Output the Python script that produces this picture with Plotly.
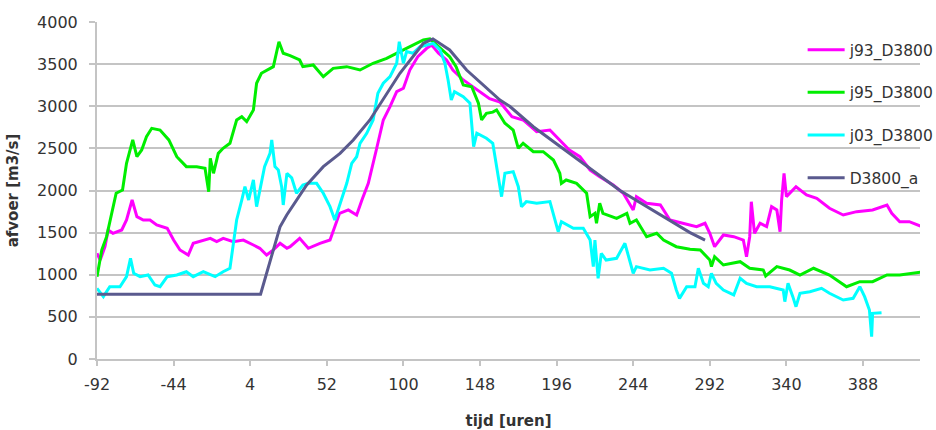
import plotly.graph_objects as go

# ---- data (hours, discharge m3/s) ----
j93_x = [-92, -90, -87, -85, -82, -76.5, -73.5, -70, -67, -63, -58.8, -54.6, -48, -44, -40, -34.8, -31.7,
         -27.5, -21, -17, -12.9, -6.6, -0.3, 6, 10, 14.3, 18.5, 22.7, 27, 29, 35, 40.4, 47.7, 54, 57, 60,
         65.5, 70.7, 74, 78, 83, 87.4, 91.6, 95.8, 100, 104, 109, 114.6, 117.7, 122, 127, 131, 137.5, 146,
         154, 160.5, 168, 175, 183.5, 191.8, 198, 204, 210.6, 217, 223, 231.5, 237.8, 244, 246, 252.4, 261,
         267, 275, 283.7, 289, 292, 295, 300.5, 307, 313, 315, 317, 318, 320, 323.5, 327.6, 330.7, 334, 336,
         337, 338.5, 340, 346, 352.6, 359, 367, 375.6, 384, 394, 403, 406, 411, 417, 424]
j93_y = [1254, 1175, 1333, 1531, 1492, 1531, 1650, 1887, 1689, 1650, 1650, 1591, 1551, 1412, 1294, 1234, 1373,
         1393, 1432, 1393, 1432, 1393, 1412, 1353, 1314, 1234, 1294, 1373, 1314, 1333, 1432, 1314, 1373, 1412,
         1571, 1729, 1769, 1709, 1887, 2085, 2481, 2837, 2995, 3173, 3213, 3430, 3589, 3688, 3727, 3629, 3549,
         3430, 3312, 3193, 3090, 3050, 2876, 2837, 2698, 2718, 2600, 2481, 2401, 2243, 2164, 2065, 1967, 1769,
         1927, 1848, 1828, 1650, 1611, 1571, 1611, 1492, 1333, 1472, 1452, 1412, 1214, 1452, 1867, 1492, 1611,
         1571, 1808, 1769, 1511, 1887, 2204, 1927, 2045, 1947, 1907, 1789, 1709, 1749, 1769, 1828, 1729, 1630,
         1630, 1578]

j95_x = [-92, -89, -86, -82, -80, -76, -73.5, -69.6, -67, -64, -61, -57.7, -52.5, -47, -42, -36, -29.5, -24.3,
         -22, -21, -19, -16, -13, -8.7, -4.5, -1.3, 1.8, 6, 8, 11, 18.5, 22, 24.7, 29, 35, 37, 43.5, 49.8, 56,
         64.5, 72.8, 81, 89.5, 97.8, 106, 112.5, 116.6, 123, 129, 133, 137.5, 142.8, 147, 149, 152, 156, 158.4,
         163.6, 168.8, 172, 175, 181.4, 187.6, 194, 198, 199, 202, 208.5, 214.8, 217, 220, 221, 223, 225, 233.6,
         240, 242, 246, 252.4, 258.7, 263, 271, 279.6, 286, 292, 293, 295, 300.5, 311, 317, 325.5, 327, 334,
         342, 348.5, 357, 367, 377.7, 386, 394, 403, 411, 424]
j95_y = [977, 1294, 1452, 1808, 1967, 2006, 2323, 2600, 2401, 2481, 2639, 2738, 2718, 2600, 2401, 2283, 2283,
         2263, 1986, 2382, 2204, 2441, 2501, 2560, 2837, 2876, 2817, 2956, 3273, 3391, 3470, 3766, 3629, 3600,
         3549, 3470, 3490, 3351, 3450, 3470, 3430, 3510, 3569, 3648, 3727, 3787, 3800, 3688, 3589, 3470, 3252,
         3232, 3035, 2837, 2916, 2930, 2956, 2798, 2718, 2501, 2560, 2461, 2461, 2362, 2204, 2085, 2125, 2085,
         1967, 1689, 1729, 1611, 1848, 1729, 1670, 1729, 1611, 1650, 1452, 1492, 1412, 1333, 1304, 1294, 1175,
         1096, 1214, 1116, 1155, 1077, 1056, 986, 1096, 1056, 997, 1077, 997, 858, 918, 918, 997, 997, 1030]

j03_x = [-92, -88, -84, -77.6, -73.5, -71, -69, -65, -60, -55.7, -52.5, -48, -42, -36, -31.7, -25.4, -18, -13,
         -8.7, -7, -4.5, -1.3, 0.7, 3, 6, 8, 10, 13, 16.4, 17.5, 19.5, 21.6, 23.7, 24.7, 27, 30, 33, 37, 40.4,
         45.6, 49.8, 54, 57, 60, 64.5, 67.6, 70.7, 72.8, 77, 81, 84, 87.4, 91.6, 95.8, 97.4, 100, 102, 106,
         110.4, 114.6, 118.7, 123, 126, 128, 130, 132, 137.5, 141.7, 144, 146, 152, 156, 157, 159.4, 161.5,
         163.6, 168.8, 172, 174, 177, 183.5, 191.8, 195, 197, 199, 206.5, 212.7, 217, 219, 220, 222, 224, 227,
         233.6, 238.8, 242, 244, 246, 254.5, 263, 268, 271, 273, 277.5, 282.7, 284.8, 288, 291, 293, 296,
         300.5, 307, 311, 315, 321.3, 329.6, 338, 339, 341, 344, 346, 348.5, 354.7, 362, 367, 375.6, 381.8,
         386, 389, 392, 393.4, 394, 399.6]
j03_y = [839, 740, 858, 858, 977, 1195, 1017, 977, 997, 878, 858, 977, 997, 1036, 977, 1036, 977, 1036, 1076,
         1333, 1650, 1887, 2045, 1887, 2125, 1808, 2006, 2283, 2441, 2600, 2283, 2243, 2045, 1828, 2204, 2150,
         1967, 2065, 2085, 2085, 1967, 1808, 1650, 1828, 2085, 2323, 2401, 2560, 2679, 2837, 3154, 3273, 3351,
         3510, 3766, 3510, 3648, 3629, 3707, 3727, 3747, 3668, 3510, 3312, 3074, 3173, 3113, 3035, 2520, 2679,
         2620, 2560, 2441, 2204, 1927, 2204, 2224, 2045, 1808, 1868, 1848, 1868, 1650, 1511, 1630, 1551, 1551,
         1412, 1096, 1412, 958, 1254, 1175, 1195, 1373, 1136, 1017, 1096, 1056, 1077, 1017, 819, 720, 858, 858,
         1076, 898, 858, 1017, 898, 819, 760, 958, 898, 858, 858, 819, 681, 898, 740, 621, 780, 799, 839, 780,
         700, 720, 858, 740, 582, 265, 542, 550]

d38_x = [-92, 10.5, 22.7, 26.9, 39.4, 49.8, 60.3, 68.6, 79, 97.8, 112.5, 118.5, 129, 139.6, 160.5, 166.6,
         181.4, 200, 235.7, 279.6, 289]
d38_y = [770, 770, 1570, 1709, 2065, 2283, 2441, 2600, 2837, 3391, 3747, 3800, 3668, 3430, 3074, 3000,
         2757, 2500, 2000, 1500, 1412]

x_ticks = [-92, -44, 4, 52, 100, 148, 196, 244, 292, 340, 388]
y_ticks = [0, 500, 1000, 1500, 2000, 2500, 3000, 3500, 4000]

series = [
    ("j93_D3800", j93_x, j93_y, "#FF00FF"),
    ("j95_D3800", j95_x, j95_y, "#00EE00"),
    ("j03_D3800", j03_x, j03_y, "#00FFFF"),
    ("D3800_a", d38_x, d38_y, "#5A5A8E"),
]

fig = go.Figure()
for name, xs, ys, col in series:
    fig.add_trace(go.Scatter(x=xs, y=ys, mode="lines", name=name, legendgroup=name,
                             line=dict(color=col, width=3)))

grid = "#C4C4C4"
font_fam = "DejaVu Sans, Arial, sans-serif"
fig.update_layout(
    width=936, height=430,
    margin=dict(l=97, r=16, t=22, b=71, autoexpand=False),
    paper_bgcolor="white", plot_bgcolor="white",
    font=dict(family=font_fam, size=16, color="#333333"),
    showlegend=True,
    legend=dict(x=0.8574, y=0.967, xanchor="left", yanchor="top", bgcolor="rgba(0,0,0,0)",
                itemwidth=37, tracegroupgap=19.5, font=dict(size=15.5, color="#333333")),
    xaxis=dict(range=[-92, 423.7], tickmode="array", tickvals=x_ticks, ticktext=[str(v) for v in x_ticks],
               showgrid=False, zeroline=False, showline=True, linecolor=grid, linewidth=2,
               ticks="outside", ticklen=5, tickwidth=2, tickcolor=grid, automargin=False,
               ticklabelstandoff=5,
               title=dict(text="<b>tijd [uren]</b>", font=dict(size=15, color="#333333"), standoff=23)),
    yaxis=dict(range=[0, 4000], tickmode="array", tickvals=y_ticks, ticktext=[str(v) for v in y_ticks],
               showgrid=True, gridcolor=grid, gridwidth=2, zeroline=False, showline=True, linecolor=grid,
               linewidth=2, ticks="outside", ticklen=6, tickwidth=2, tickcolor=grid, ticklabelstandoff=8,
               automargin=False,
               title=dict(text="<b>afvoer [m3/s]</b>", font=dict(size=15, color="#333333"), standoff=15)),
)

fig.write_html("out.html", config={"displayModeBar": False},
               post_script="document.body.style.margin='0';")
